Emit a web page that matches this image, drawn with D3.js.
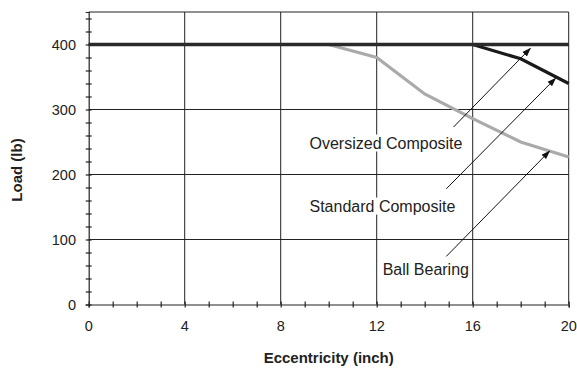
<!DOCTYPE html>
<html>
<head>
<meta charset="utf-8">
<script src="https://cdn.jsdelivr.net/npm/d3@7"></script>
<style>
  body { margin: 0; background: #fff; }
  text { font-family: Arial, "Liberation Sans", sans-serif; fill: #222; }
</style>
</head>
<body>
<svg id="chart" width="577" height="370"></svg>
<script>
// data
let eccentricity = [0, 2, 4, 6, 8, 10, 12, 14, 16, 18, 20];
let oversized = [400, 400, 400, 400, 400, 400, 400, 400, 400, 400, 400];
let standard = [400, 400, 400, 400, 400, 400, 400, 400, 400, 378, 340];
let ballBearing = [400, 400, 400, 400, 400, 400, 380, 324, 286, 250, 227];
let xTicks = [0, 4, 8, 12, 16, 20];
let yTicks = [0, 100, 200, 300, 400];

// annotation labels with arrows: label, text position, arrow from/to (data units)
let notes = [
    {label: "Oversized Composite", tx: 9.2, ty: 240, from: [15.2, 273], to: [18.4, 394]},
    {label: "Standard Composite", tx: 9.2, ty: 143, from: [14.9, 178], to: [19.45, 348]},
    {label: "Ball Bearing", tx: 12.25, ty: 45, from: [14.9, 74], to: [19.2, 236]}
];

let svg = d3.select("#chart");
let x = d3.scaleLinear().domain([0, 20]).range([88.7, 568.7]);
let y = d3.scaleLinear().domain([0, 450]).range([304.5, 12]);

// grid
let grid = svg.append("g").attr("stroke", "#222").attr("stroke-width", 1);
grid.selectAll(".gx").data(xTicks.slice(1))
    .enter().append("line")
    .attr("x1", d => x(d)).attr("x2", d => x(d))
    .attr("y1", y(0)).attr("y2", y(450));
grid.selectAll(".gy").data(yTicks.slice(1))
    .enter().append("line")
    .attr("x1", x(0)).attr("x2", x(20))
    .attr("y1", d => y(d)).attr("y2", d => y(d));
grid.append("line").attr("x1", x(0)).attr("x2", x(20)).attr("y1", y(450)).attr("y2", y(450));

// axes with ticks crossing the line
let xAxis = svg.append("g").attr("transform", "translate(0," + y(0) + ")")
    .call(d3.axisBottom(x).tickValues(d3.range(0, 21, 1)).tickSize(3).tickFormat(""));
xAxis.selectAll(".tick line").attr("y1", -3);
let yAxis = svg.append("g").attr("transform", "translate(" + x(0) + ",0)")
    .call(d3.axisLeft(y).tickValues(d3.range(0, 441, 20)).tickSize(3).tickFormat(""));
yAxis.selectAll(".tick line").attr("x1", 3);
svg.selectAll(".domain").attr("stroke", "#222").attr("stroke-width", 1.2);
svg.selectAll(".tick line").attr("stroke", "#222").attr("stroke-width", 1.2);

// tick labels
svg.selectAll(".xl").data(xTicks).enter().append("text")
    .attr("x", d => x(d)).attr("y", 331)
    .attr("text-anchor", "middle").attr("font-size", 14.5).text(d => d);
svg.selectAll(".yl").data(yTicks).enter().append("text")
    .attr("x", 76).attr("y", d => y(d) + 5.5)
    .attr("text-anchor", "end").attr("font-size", 14.5).text(d => d);

// axis titles
svg.append("text").attr("x", x(10)).attr("y", 363)
    .attr("text-anchor", "middle").attr("font-size", 15).attr("font-weight", "bold")
    .text("Eccentricity (inch)");
svg.append("text").attr("transform", "translate(22,170) rotate(-90)")
    .attr("text-anchor", "middle").attr("font-size", 15).attr("font-weight", "bold")
    .text("Load (lb)");

// series
let line = vals => d3.line().x((d, i) => x(eccentricity[i])).y(d => y(d))(vals);
svg.append("path").attr("d", line(ballBearing)).attr("fill", "none")
    .attr("stroke", "#aaa").attr("stroke-width", 3.2);
svg.append("path").attr("d", line(standard)).attr("fill", "none")
    .attr("stroke", "#1a1a1a").attr("stroke-width", 3.2);
svg.append("path").attr("d", line(oversized)).attr("fill", "none")
    .attr("stroke", "#2a2a2a").attr("stroke-width", 3.5);

// arrows
svg.append("defs").append("marker")
    .attr("id", "arr").attr("viewBox", "0 0 10 10").attr("refX", 9).attr("refY", 5)
    .attr("markerWidth", 9).attr("markerHeight", 9).attr("markerUnits", "userSpaceOnUse")
    .attr("orient", "auto")
    .append("path").attr("d", "M0,1.5 L10,5 L0,8.5 Z").attr("fill", "#111");
svg.selectAll(".arrow").data(notes).enter().append("line")
    .attr("x1", d => x(d.from[0])).attr("y1", d => y(d.from[1]))
    .attr("x2", d => x(d.to[0])).attr("y2", d => y(d.to[1]))
    .attr("stroke", "#111").attr("stroke-width", 1)
    .attr("marker-end", "url(#arr)");

// labels on white backing
let lab = svg.selectAll(".note").data(notes).enter().append("g");
lab.append("text")
    .attr("x", d => x(d.tx)).attr("y", d => y(d.ty))
    .attr("font-size", 16).text(d => d.label)
    .each(function (d) {
        let b = this.getBBox();
        d3.select(this.parentNode).insert("rect", "text")
            .attr("x", b.x - 2).attr("y", b.y).attr("width", b.width + 4).attr("height", b.height)
            .attr("fill", "#fff");
    });
</script>
</body>
</html>
